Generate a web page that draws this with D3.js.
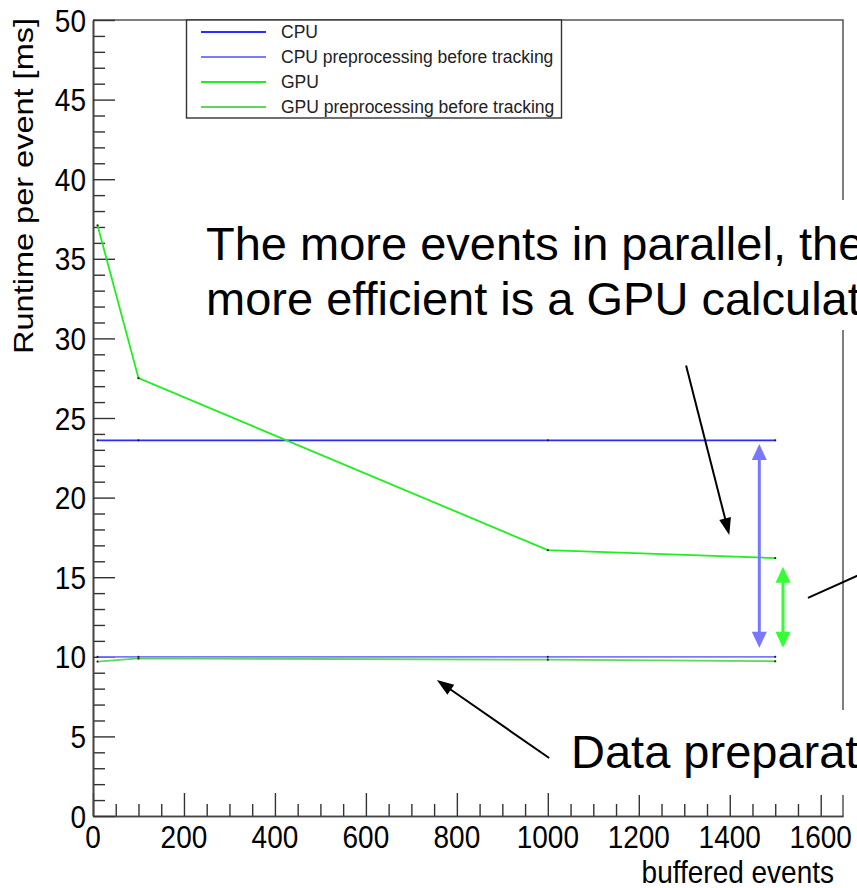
<!DOCTYPE html>
<html>
<head>
<meta charset="utf-8">
<title>Runtime per event</title>
<style>
body { margin: 0; background: #fff; }
svg { display: block; font-family: "Liberation Sans", Arial, Helvetica, sans-serif; }
.lbl { font-size: 28px; fill: #000; }
.leg { font-size: 17.5px; fill: #222; }
.note { font-size: 47px; fill: #000; }
.tick line { stroke: #333; stroke-width: 1.4; }
.domain { stroke: #444; stroke-width: 1.6; }
</style>
</head>
<body>
<script src="https://cdn.jsdelivr.net/npm/d3@7"></script>
<script>
var width = 857, height = 888;

// data
var events = [10, 100, 1000, 1500];
var cpu    = [23.6, 23.6, 23.6, 23.6];
var cpuPre = [10.0, 10.0, 10.0, 10.0];
var gpu    = [37.1, 27.5, 16.7, 16.2];
var gpuPre = [9.7, 9.9, 9.82, 9.72];
var seriesNames = ["CPU", "CPU preprocessing before tracking", "GPU", "GPU preprocessing before tracking"];
var seriesColors = ["#2b2bff", "#7a7aff", "#1fee1f", "#5fd65f"];

var xTicks = [0, 200, 400, 600, 800, 1000, 1200, 1400, 1600];
var xMinor = [50, 100, 150, 250, 300, 350, 450, 500, 550, 650, 700, 750, 850, 900, 950,
              1050, 1100, 1150, 1250, 1300, 1350, 1450, 1500, 1550];
var yTicks = [0, 5, 10, 15, 20, 25, 30, 35, 40, 45, 50];
var yMinor = [1, 2, 3, 4, 6, 7, 8, 9, 11, 12, 13, 14, 16, 17, 18, 19, 21, 22, 23, 24,
              26, 27, 28, 29, 31, 32, 33, 34, 36, 37, 38, 39, 41, 42, 43, 44, 46, 47, 48, 49];

// annotations (in data units)
var arrowBlue  = [[1465, 23.37], [1465, 10.57]];
var arrowGreen = [[1517, 15.66], [1517, 10.57]];
var arrowGpu   = [[1304, 28.3], [1399, 17.65]];
var arrowPrep  = [[1003, 3.64], [756, 8.54]];
var leader     = [[1572, 13.7], [1720, 15.6]];

var x = d3.scaleLinear().domain([0, 1649]).range([93, 843]);
var y = d3.scaleLinear().domain([0, 50]).range([816, 20]);

var svg = d3.select("body").append("svg")
	.attr("width", width)
	.attr("height", height);

// frame top/right
svg.append("path")
	.attr("d", "M" + x(0) + "," + y(50) + "H" + x(1649) + "V" + y(0))
	.attr("fill", "none")
	.attr("stroke", "#555")
	.attr("stroke-width", 1.5);

// axes, ticks inside like ROOT
svg.append("g").attr("transform", "translate(0," + y(0) + ")")
	.call(d3.axisBottom(x).tickValues(xMinor).tickSize(-12).tickSizeOuter(0).tickFormat(""));
svg.append("g").attr("transform", "translate(0," + y(0) + ")")
	.call(d3.axisBottom(x).tickValues(xTicks).tickSize(-23).tickSizeOuter(0).tickFormat(""));
svg.append("g").attr("transform", "translate(" + x(0) + ",0)")
	.call(d3.axisLeft(y).tickValues(yMinor).tickSize(-12).tickSizeOuter(0).tickFormat(""));
svg.append("g").attr("transform", "translate(" + x(0) + ",0)")
	.call(d3.axisLeft(y).tickValues(yTicks).tickSize(-22).tickSizeOuter(0).tickFormat(""));

// tick labels (ROOT text looks vertically stretched)
svg.selectAll(".xl").data(xTicks).enter().append("text")
	.attr("class", "lbl")
	.attr("text-anchor", "middle")
	.attr("transform", function(d) { return "translate(" + x(d) + ",848) scale(1,1.15)"; })
	.text(function(d) { return d; });

svg.selectAll(".yl").data(yTicks).enter().append("text")
	.attr("class", "lbl")
	.attr("text-anchor", "end")
	.attr("transform", function(d) { return "translate(86," + (y(d) + 11.5) + ") scale(1,1.15)"; })
	.text(function(d) { return d; });

svg.append("text")
	.attr("class", "lbl")
	.attr("text-anchor", "end")
	.attr("transform", "translate(834,883) scale(1,1.15)")
	.text("buffered events");

svg.append("text")
	.attr("class", "lbl")
	.attr("transform", "translate(33,354) rotate(-90)")
	.attr("textLength", 336)
	.attr("lengthAdjust", "spacingAndGlyphs")
	.text("Runtime per event [ms]");

// series
var allSeries = [cpu, cpuPre, gpu, gpuPre];
var line = d3.line()
	.x(function(d, i) { return x(events[i]); })
	.y(function(d) { return y(d); });

allSeries.forEach(function(s, k) {
	svg.append("path")
		.attr("d", line(s))
		.attr("fill", "none")
		.attr("stroke", seriesColors[k])
		.attr("stroke-width", 1.8);
	svg.selectAll(".pt" + k).data(s).enter().append("circle")
		.attr("cx", function(d, i) { return x(events[i]); })
		.attr("cy", function(d) { return y(d); })
		.attr("r", 1.1)
		.attr("fill", "#222");
});

// legend
var leg = svg.append("g");
leg.append("rect")
	.attr("x", 186.5).attr("y", 20)
	.attr("width", 375).attr("height", 98)
	.attr("fill", "#fff")
	.attr("stroke", "#333")
	.attr("stroke-width", 1.4);
seriesNames.forEach(function(name, i) {
	var ry = 32 + i * 25;
	leg.append("line")
		.attr("x1", 201).attr("x2", 266)
		.attr("y1", ry).attr("y2", ry)
		.attr("stroke", seriesColors[i])
		.attr("stroke-width", 1.8);
	leg.append("text")
		.attr("class", "leg")
		.attr("x", 281).attr("y", ry + 6)
		.text(name);
});

// slide annotations
svg.append("rect").attr("x", 195).attr("y", 200).attr("width", 670).attr("height", 130).attr("fill", "#fff");
svg.append("rect").attr("x", 562).attr("y", 710).attr("width", 300).attr("height", 85).attr("fill", "#fff");

svg.append("text").attr("class", "note").attr("x", 206).attr("y", 260)
	.text("The more events in parallel, the");
svg.append("text").attr("class", "note").attr("x", 206).attr("y", 315)
	.text("more efficient is a GPU calculation");
svg.append("text").attr("class", "note").attr("x", 571).attr("y", 768)
	.text("Data preparation");

function head(g, px, py, qx, qy, len, w, color) {
	var dx = qx - px, dy = qy - py, L = Math.sqrt(dx * dx + dy * dy);
	var ux = dx / L, uy = dy / L;
	var bx = qx - ux * len, by = qy - uy * len;
	g.append("path")
		.attr("d", "M" + qx + "," + qy +
			"L" + (bx - uy * w / 2) + "," + (by + ux * w / 2) +
			"L" + (bx + uy * w / 2) + "," + (by - ux * w / 2) + "Z")
		.attr("fill", color);
}

function arrow(pts, color, sw, both, len, w) {
	var p = pts.map(function(d) { return [x(d[0]), y(d[1])]; });
	var g = svg.append("g");
	var dx = p[1][0] - p[0][0], dy = p[1][1] - p[0][1], L = Math.sqrt(dx * dx + dy * dy);
	var ux = dx / L, uy = dy / L;
	var s = both ? [p[0][0] + ux * len * 0.8, p[0][1] + uy * len * 0.8] : p[0];
	g.append("line")
		.attr("x1", s[0]).attr("y1", s[1])
		.attr("x2", p[1][0] - ux * len * 0.8).attr("y2", p[1][1] - uy * len * 0.8)
		.attr("stroke", color).attr("stroke-width", sw);
	head(g, p[0][0], p[0][1], p[1][0], p[1][1], len, w, color);
	if (both) head(g, p[1][0], p[1][1], p[0][0], p[0][1], len, w, color);
}

arrow(arrowBlue, "#7777ff", 3, true, 16, 15);
arrow(arrowGreen, "#33ff33", 3, true, 16, 15);
arrow(arrowGpu, "#000", 2, false, 17, 12);
arrow(arrowPrep, "#000", 2, false, 17, 12);

svg.append("line")
	.attr("x1", x(leader[0][0])).attr("y1", y(leader[0][1]))
	.attr("x2", x(leader[1][0])).attr("y2", y(leader[1][1]))
	.attr("stroke", "#000").attr("stroke-width", 2);
</script>
</body>
</html>
